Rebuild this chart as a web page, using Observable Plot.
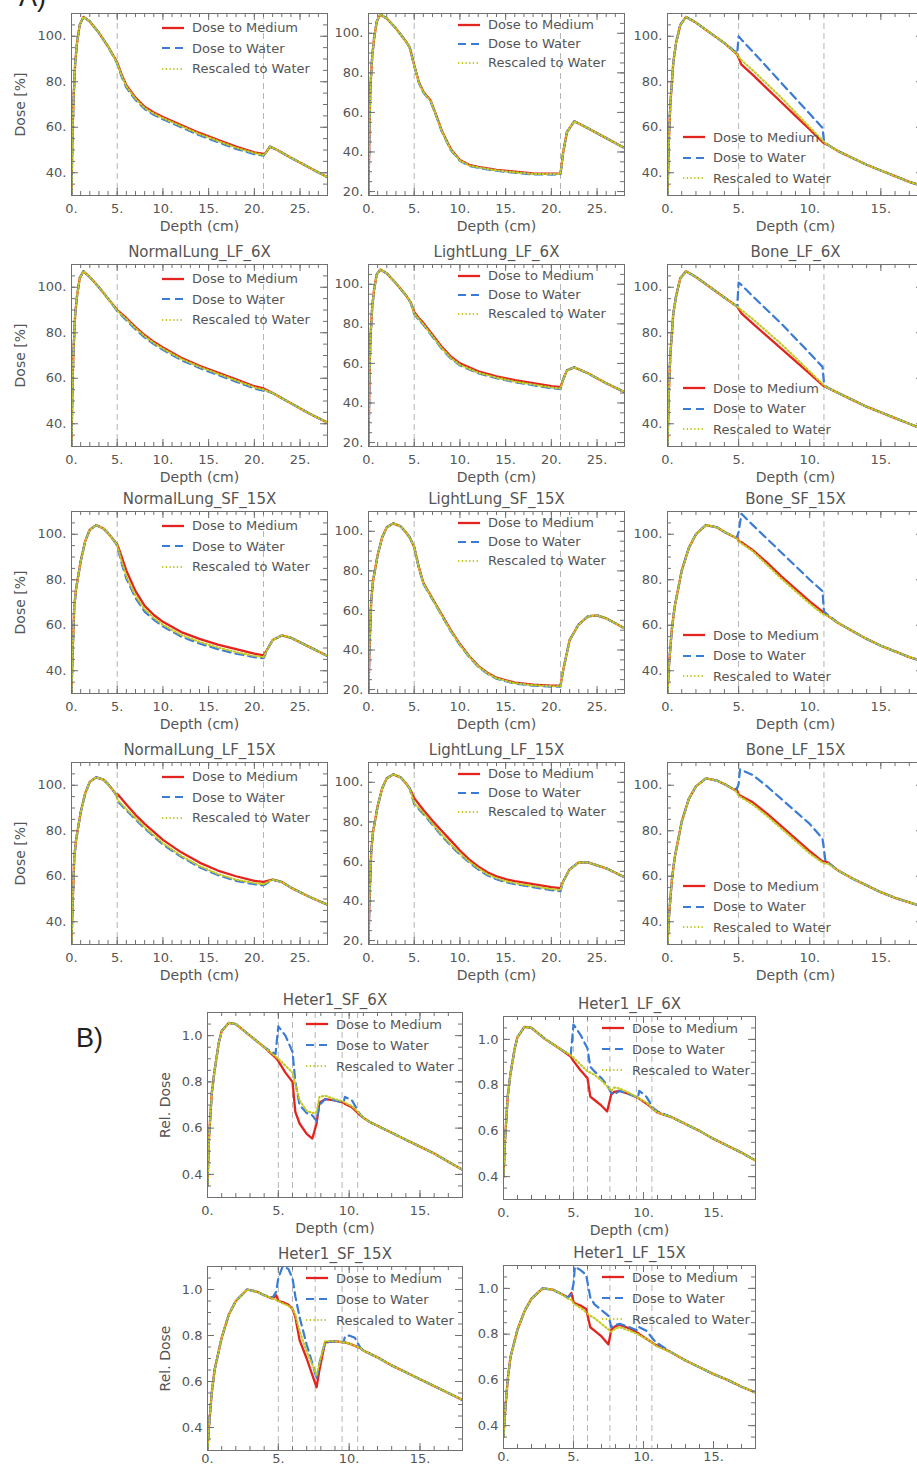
<!DOCTYPE html>
<html><head><meta charset="utf-8">
<script src="https://cdn.jsdelivr.net/npm/d3@7"></script>
<script src="https://cdn.jsdelivr.net/npm/@observablehq/plot@0.6"></script>
<style>
html,body{margin:0;padding:0;width:917px;height:1467px;overflow:hidden;background:#fff;}
#root{position:relative;width:917px;height:1467px;overflow:hidden;font-family:"DejaVu Sans",sans-serif;}
.pan{position:absolute;}
.pan svg{max-width:none !important;}
.leg{position:absolute;font-size:13px;color:#555;white-space:nowrap;}
.leg .it{display:flex;align-items:center;}
.leg svg{display:block;}
.big{position:absolute;font-family:"Liberation Sans",Arial,sans-serif;font-size:27px;color:#222;}
</style></head><body><div id="root"></div>
<script>
// ---------- tick labels / series names ----------
const seriesNames = ["Dose to Medium", "Dose to Water", "Rescaled to Water"];
const xTicksLung = [0, 5, 10, 15, 20, 25];
const xTicksShort = [0, 5, 10, 15];
const yTicksA = [40, 60, 80, 100];
const yTicksL = [20, 40, 60, 80, 100];
const yTicksB = [0.4, 0.6, 0.8, 1.0];
const slabsLung = [5, 21];
const slabsBone = [5, 11];
const slabsHeter = [5, 6, 7.6, 9.5, 10.6];

// ---------- A) row 1 : SF 6X ----------
const nlSF6_depth = [0, 0.1, 0.2, 0.4, 0.6, 0.9, 1.3, 2, 3, 4, 5, 5.5, 6, 7, 8, 9, 10, 12, 14, 16, 18, 20, 21, 21.2, 21.7, 22.5, 24, 26, 28];
const nlSF6_medium = [30, 55, 70, 88, 97, 105, 108.5, 106.5, 101.5, 95.5, 88.5, 83, 78.5, 73, 69, 66.5, 64.5, 61, 57.5, 54.5, 51.5, 49, 48.3, 48.5, 51.5, 50, 46.6, 42.3, 38];
const nlSF6_water = [30, 55, 70, 88, 97, 105, 108.5, 106.5, 101.5, 95.5, 88, 82, 77.5, 72, 68, 65.5, 63.5, 60, 56.5, 53.5, 50.5, 48.2, 47.5, 48.5, 51.5, 50, 46.6, 42.3, 38];
const nlSF6_rescaled = [30, 55, 70, 88, 97, 105, 108.5, 106.5, 101.5, 95.5, 88.2, 82.5, 78, 72.5, 68.5, 66, 64, 60.5, 57, 54, 51, 48.6, 47.8, 48.5, 51.5, 50, 46.6, 42.3, 38];

const llSF6_depth = [0, 0.1, 0.2, 0.4, 0.6, 0.9, 1.3, 2, 3, 4, 4.5, 5, 5.5, 6, 6.8, 7.5, 8, 9, 10, 11, 12, 14, 16, 18, 20, 21, 21.3, 21.7, 22.5, 24, 26, 28];
const llSF6_medium = [18, 50, 72, 88, 97, 106, 109.5, 107.5, 102.5, 96.5, 93, 84, 75.5, 70.5, 66, 57.5, 51, 41.5, 36, 33.5, 32.5, 31, 30, 29.2, 29, 29.2, 40, 50, 55.5, 52, 47, 42];
const llSF6_water = [18, 50, 72, 88, 97, 106, 109.5, 107.5, 102.5, 96.5, 93, 83.5, 75, 70, 65.5, 57, 50.5, 41, 35.5, 33, 32, 30.5, 29.5, 28.7, 28.6, 28.8, 40, 50, 55.5, 52, 47, 42];
const llSF6_rescaled = [18, 50, 72, 88, 97, 106, 109.5, 107.5, 102.5, 96.5, 93, 83.7, 75.2, 70.2, 65.7, 57.2, 50.7, 41.2, 35.7, 33.2, 32.2, 30.7, 29.7, 28.9, 28.8, 29, 40, 50, 55.5, 52, 47, 42];

const boneSF6_depth = [0, 0.1, 0.2, 0.4, 0.6, 0.9, 1.3, 2, 3, 4, 4.9, 5.0, 5.2, 6, 7, 8, 9, 10, 10.9, 11.0, 11.2, 12, 13, 14, 15, 16, 17, 18];
const boneSF6_medium = [30, 55, 70, 88, 97, 105, 108.5, 106, 101.5, 97, 92, 90.5, 87.5, 83, 77, 71, 65, 59, 53.5, 53, 52.5, 49.5, 46.5, 43.5, 41, 38.5, 36, 34];
const boneSF6_water = [30, 55, 70, 88, 97, 105, 108.5, 106, 101.5, 97, 92.5, 100, 98.5, 93.2, 86.4, 79.5, 72.7, 65.9, 59.7, 54, 52.5, 49.5, 46.5, 43.5, 41, 38.5, 36, 34];
const boneSF6_rescaled = [30, 55, 70, 88, 97, 105, 108.5, 106, 101.5, 97, 92, 91, 89.5, 85, 79, 73, 66.5, 60, 54.3, 53.5, 52.5, 49.5, 46.5, 43.5, 41, 38.5, 36, 34];

// ---------- A) row 2 : LF 6X ----------
const nlLF6_depth = [0, 0.1, 0.2, 0.4, 0.6, 0.9, 1.3, 2, 3, 4, 5, 6, 7, 8, 9, 10, 12, 14, 16, 18, 20, 21, 22, 24, 26, 28];
const nlLF6_medium = [30, 55, 70, 88, 96, 104, 107, 104.5, 100, 95, 90, 86.5, 82.5, 79, 76, 73.5, 69, 65.5, 62.5, 59.5, 56.5, 55.5, 53.5, 49, 44.5, 40.5];
const nlLF6_water = [30, 55, 70, 88, 96, 104, 107, 104.5, 100, 95, 89.5, 85.5, 81.5, 78, 75, 72.5, 68, 64.5, 61.5, 58.5, 55.5, 54.5, 53.5, 49, 44.5, 40.5];
const nlLF6_rescaled = [30, 55, 70, 88, 96, 104, 107, 104.5, 100, 95, 89.7, 86, 82, 78.5, 75.5, 73, 68.5, 65, 62, 59, 56, 55, 53.5, 49, 44.5, 40.5];

const llLF6_depth = [0, 0.1, 0.2, 0.4, 0.6, 0.9, 1.3, 2, 3, 4, 4.6, 5, 5.5, 6, 7, 8, 9, 10, 12, 14, 16, 18, 20, 21, 21.3, 21.7, 22.5, 24, 26, 28];
const llLF6_medium = [18, 50, 72, 88, 97, 105, 107.5, 105.5, 100.5, 95, 91, 86, 83, 80.5, 74.5, 68.5, 63.5, 60, 56, 53.5, 51.5, 50, 48.5, 48, 52, 56.5, 58, 55, 50, 45.5];
const llLF6_water = [18, 50, 72, 88, 97, 105, 107.5, 105.5, 100.5, 95, 91, 85, 82, 79.5, 73.5, 67.5, 62.5, 59, 55, 52.5, 50.5, 49, 47.5, 47, 52, 56.5, 58, 55, 50, 45.5];
const llLF6_rescaled = [18, 50, 72, 88, 97, 105, 107.5, 105.5, 100.5, 95, 91, 85.3, 82.3, 79.8, 73.8, 67.8, 62.8, 59.3, 55.3, 52.8, 50.8, 49.3, 47.8, 47.3, 52, 56.5, 58, 55, 50, 45.5];

const boneLF6_depth = [0, 0.1, 0.2, 0.4, 0.6, 0.9, 1.3, 2, 3, 4, 4.9, 5.0, 5.2, 6, 7, 8, 9, 10, 10.9, 11.0, 11.2, 12, 13, 14, 15, 16, 17, 18];
const boneLF6_medium = [30, 55, 70, 88, 96, 104, 107, 104.5, 100, 95.5, 91.5, 90.5, 88.5, 84, 78.5, 73, 67.5, 62, 57, 56.5, 56, 53.5, 50.5, 47.5, 45, 42.5, 40, 37.5];
const boneLF6_water = [30, 55, 70, 88, 96, 104, 107, 104.5, 100, 95.5, 91.5, 102, 101, 96, 90, 84, 77.5, 71, 65, 58, 56, 53.5, 50.5, 47.5, 45, 42.5, 40, 37.5];
const boneLF6_rescaled = [30, 55, 70, 88, 96, 104, 107, 104.5, 100, 95.5, 91.5, 91, 90, 86, 80.5, 75, 69, 63, 57.5, 57, 56, 53.5, 50.5, 47.5, 45, 42.5, 40, 37.5];

// ---------- A) row 3 : SF 15X ----------
const nlSF15_depth = [0, 0.1, 0.3, 0.5, 1, 1.5, 2, 2.7, 3.5, 4, 4.5, 5, 5.5, 6, 7, 8, 9, 10, 12, 14, 16, 18, 20, 21, 21.5, 22, 23, 24, 26, 28];
const nlSF15_medium = [30, 45, 68, 76, 88, 97, 102, 104, 102.5, 100.5, 98, 95.5, 90, 84, 75, 68.5, 64.5, 61.5, 57, 54, 51.5, 49.5, 47.5, 46.8, 50, 53.5, 55.5, 54.5, 50.5, 46.5];
const nlSF15_water = [30, 45, 68, 76, 88, 97, 102, 104, 102.5, 100.5, 98, 95, 87, 80.5, 72, 66, 62.5, 59.5, 55, 52, 49.5, 47.5, 46, 45.5, 50, 53.5, 55.5, 54.5, 50.5, 46.5];
const nlSF15_rescaled = [30, 45, 68, 76, 88, 97, 102, 104, 102.5, 100.5, 98, 95.2, 88, 81.5, 73, 67, 63.2, 60.2, 55.7, 52.7, 50.2, 48.2, 46.5, 46, 50, 53.5, 55.5, 54.5, 50.5, 46.5];

const llSF15_depth = [0, 0.1, 0.3, 0.5, 1, 1.5, 2, 2.7, 3.5, 4, 4.5, 5, 5.5, 6, 7, 8, 9, 10, 11, 12, 13, 14, 16, 18, 20, 21, 21.3, 22, 23, 24, 25, 26, 28];
const llSF15_medium = [18, 40, 65, 75, 88, 97, 102, 104, 102.5, 100, 97, 92, 82, 74, 66, 58, 50, 43, 37, 32, 28.5, 26, 23.5, 22.5, 22, 22, 30, 45, 53, 57, 57.5, 56, 51];
const llSF15_water = [18, 40, 65, 75, 88, 97, 102, 104, 102.5, 100, 97, 92, 81.5, 73.5, 65.5, 57.5, 49.5, 42.5, 36.5, 31.5, 28, 25.5, 23, 22, 21.5, 21.5, 30, 45, 53, 57, 57.5, 56, 51];
const llSF15_rescaled = [18, 40, 65, 75, 88, 97, 102, 104, 102.5, 100, 97, 92, 81.7, 73.7, 65.7, 57.7, 49.7, 42.7, 36.7, 31.7, 28.2, 25.7, 23.2, 22.2, 21.7, 21.7, 30, 45, 53, 57, 57.5, 56, 51];

const boneSF15_depth = [0, 0.1, 0.3, 0.5, 1, 1.5, 2, 2.7, 3.5, 4, 4.8, 4.9, 5.0, 5.2, 6, 7, 8, 9, 10, 10.9, 11.0, 11.3, 12, 13, 14, 15, 16, 17, 18];
const boneSF15_medium = [30, 42, 58, 68, 84, 94, 100, 104, 103, 101, 98.5, 99, 97, 96.5, 93, 87.5, 81.5, 76, 70.5, 66, 65.5, 64, 61, 57.5, 54, 51, 48.5, 46, 44];
const boneSF15_water = [30, 42, 58, 68, 84, 94, 100, 104, 103, 101, 98.5, 99, 101, 109, 104, 98, 92, 86, 80, 75, 66, 64.5, 61, 57.5, 54, 51, 48.5, 46, 44];
const boneSF15_rescaled = [30, 42, 58, 68, 84, 94, 100, 104, 103, 101, 98.5, 98, 97, 96, 92.5, 86.5, 80.5, 75, 69.5, 65, 64.8, 64, 61, 57.5, 54, 51, 48.5, 46, 44];

// ---------- A) row 4 : LF 15X ----------
const nlLF15_depth = [0, 0.1, 0.3, 0.5, 1, 1.5, 2, 2.7, 3.5, 4, 4.5, 4.95, 5.05, 6, 7, 8, 9, 10, 12, 14, 16, 18, 20, 21, 22, 23, 24, 26, 28];
const nlLF15_medium = [30, 45, 68, 76, 88, 96.5, 101.5, 103.5, 102.5, 100.5, 98, 95.5, 96, 91.5, 87, 83, 79.5, 76, 70.5, 66, 62.5, 60, 58, 57.5, 58.5, 57.5, 55, 51, 47.5];
const nlLF15_water = [30, 45, 68, 76, 88, 96.5, 101.5, 103.5, 102.5, 100.5, 98, 95.5, 93, 89, 85, 81, 77.5, 74, 68.5, 64, 60.5, 58, 56.5, 56, 58.5, 57.5, 55, 51, 47.5];
const nlLF15_rescaled = [30, 45, 68, 76, 88, 96.5, 101.5, 103.5, 102.5, 100.5, 98, 95.5, 93.5, 89.5, 85.5, 81.5, 78, 74.5, 69, 64.5, 61, 58.5, 57, 56.5, 58.5, 57.5, 55, 51, 47.5];

const llLF15_depth = [0, 0.1, 0.3, 0.5, 1, 1.5, 2, 2.7, 3.5, 4, 4.5, 5, 6, 7, 8, 9, 10, 11, 12, 13, 14, 15, 16, 18, 20, 21, 21.3, 22, 23, 24, 25, 26, 28];
const llLF15_medium = [18, 40, 65, 75, 88, 97, 102, 104, 102.5, 100, 97, 92, 86, 80.5, 75.5, 70.5, 65.5, 61, 57.5, 54.5, 52.5, 51, 50, 48.5, 47, 46.5, 50, 56, 59.5, 59.5, 58, 56.5, 52];
const llLF15_water = [18, 40, 65, 75, 88, 97, 102, 104, 102.5, 100, 97, 89, 84, 78.5, 73, 68, 63.5, 59.5, 56, 53, 51, 49.5, 48.5, 47, 45.5, 45, 50, 56, 59.5, 59.5, 58, 56.5, 52];
const llLF15_rescaled = [18, 40, 65, 75, 88, 97, 102, 104, 102.5, 100, 97, 89.5, 84.5, 79, 73.5, 68.5, 64, 60, 56.5, 53.5, 51.5, 50, 49, 47.5, 46, 45.5, 50, 56, 59.5, 59.5, 58, 56.5, 52];

const boneLF15_depth = [0, 0.1, 0.3, 0.5, 1, 1.5, 2, 2.7, 3.5, 4, 4.7, 4.85, 5.0, 5.1, 6, 7, 8, 9, 10, 10.9, 11.1, 11.3, 12, 13, 14, 15, 16, 17, 18];
const boneLF15_medium = [30, 42, 58, 68, 84, 94, 99.5, 103, 102, 100.5, 98, 98.5, 96, 95.5, 92.5, 87.5, 82, 76.5, 71, 66.5, 66.5, 66, 62.5, 59, 56, 53, 50.5, 48.5, 46.5];
const boneLF15_water = [30, 42, 58, 68, 84, 94, 99.5, 103, 102, 100.5, 98, 98, 100.5, 107, 104.5, 99.5, 94, 88.5, 83, 76.5, 67, 66, 62.5, 59, 56, 53, 50.5, 48.5, 46.5];
const boneLF15_rescaled = [30, 42, 58, 68, 84, 94, 99.5, 103, 102, 100.5, 98, 97, 95.5, 95, 91.5, 86.5, 81, 75.5, 70, 66, 65.5, 65.5, 62.5, 59, 56, 53, 50.5, 48.5, 46.5];

// ---------- B) Heter1 ----------
const h1SF6_depth = [0, 0.1, 0.3, 0.5, 0.8, 1, 1.5, 2, 3, 4, 4.8, 5.0, 5.5, 6.0, 6.2, 6.5, 7.0, 7.4, 7.7, 7.9, 8.3, 9, 9.6, 9.7, 10.2, 10.7, 11, 11.5, 12, 13, 14, 15, 16, 17, 18];
const h1SF6_medium = [0.35, 0.55, 0.75, 0.85, 0.97, 1.02, 1.055, 1.05, 1.0, 0.95, 0.905, 0.89, 0.84, 0.80, 0.67, 0.62, 0.575, 0.555, 0.62, 0.71, 0.725, 0.72, 0.71, 0.705, 0.69, 0.66, 0.645, 0.625, 0.61, 0.58, 0.55, 0.52, 0.49, 0.455, 0.42];
const h1SF6_water = [0.35, 0.55, 0.75, 0.85, 0.97, 1.02, 1.055, 1.05, 1.0, 0.95, 0.92, 1.04, 1.0, 0.93, 0.80, 0.70, 0.665, 0.655, 0.63, 0.70, 0.725, 0.72, 0.71, 0.735, 0.72, 0.665, 0.645, 0.625, 0.61, 0.58, 0.55, 0.52, 0.49, 0.455, 0.42];
const h1SF6_rescaled = [0.35, 0.55, 0.75, 0.85, 0.97, 1.02, 1.055, 1.05, 1.0, 0.95, 0.91, 0.90, 0.87, 0.84, 0.79, 0.72, 0.675, 0.665, 0.67, 0.735, 0.74, 0.725, 0.715, 0.71, 0.695, 0.665, 0.645, 0.625, 0.61, 0.58, 0.55, 0.52, 0.49, 0.455, 0.42];

const h1LF6_depth = [0, 0.1, 0.3, 0.5, 0.8, 1, 1.5, 2, 3, 4, 4.8, 5.0, 5.5, 6.0, 6.2, 6.5, 7.0, 7.4, 7.7, 7.9, 8.3, 9, 9.6, 9.7, 10.2, 10.7, 11, 12, 13, 14, 15, 16, 17, 18];
const h1LF6_medium = [0.4, 0.55, 0.75, 0.85, 0.96, 1.01, 1.055, 1.05, 1.0, 0.96, 0.925, 0.905, 0.865, 0.83, 0.75, 0.735, 0.71, 0.685, 0.76, 0.77, 0.775, 0.76, 0.745, 0.74, 0.72, 0.695, 0.68, 0.66, 0.63, 0.6, 0.565, 0.535, 0.505, 0.47];
const h1LF6_water = [0.4, 0.55, 0.75, 0.85, 0.96, 1.01, 1.055, 1.05, 1.0, 0.96, 0.93, 1.065, 1.02, 0.96, 0.88, 0.86, 0.83, 0.80, 0.765, 0.76, 0.775, 0.76, 0.745, 0.775, 0.75, 0.70, 0.685, 0.66, 0.63, 0.6, 0.565, 0.535, 0.505, 0.47];
const h1LF6_rescaled = [0.4, 0.55, 0.75, 0.85, 0.96, 1.01, 1.055, 1.05, 1.0, 0.96, 0.93, 0.92, 0.89, 0.86, 0.855, 0.845, 0.82, 0.795, 0.775, 0.79, 0.785, 0.765, 0.745, 0.74, 0.725, 0.695, 0.68, 0.66, 0.63, 0.6, 0.565, 0.535, 0.505, 0.47];

const h1SF15_depth = [0, 0.1, 0.3, 0.5, 1, 1.5, 2, 2.8, 3.5, 4, 4.6, 4.85, 5.0, 5.3, 5.7, 6.0, 6.2, 6.5, 7.0, 7.5, 7.7, 7.9, 8.3, 9, 9.6, 9.7, 10.0, 10.4, 10.8, 11, 12, 13, 14, 15, 16, 17, 18];
const h1SF15_medium = [0.3, 0.4, 0.55, 0.65, 0.79, 0.89, 0.95, 1.0, 0.99, 0.975, 0.96, 0.975, 0.95, 0.945, 0.935, 0.915, 0.88, 0.78, 0.70, 0.61, 0.575, 0.65, 0.77, 0.775, 0.77, 0.77, 0.765, 0.755, 0.745, 0.735, 0.705, 0.67, 0.64, 0.61, 0.58, 0.55, 0.52];
const h1SF15_water = [0.3, 0.4, 0.55, 0.65, 0.79, 0.89, 0.95, 1.0, 0.99, 0.975, 0.965, 0.99, 1.05, 1.10, 1.09, 1.05, 0.97, 0.88, 0.76, 0.66, 0.61, 0.68, 0.77, 0.775, 0.77, 0.795, 0.80, 0.79, 0.745, 0.735, 0.705, 0.67, 0.64, 0.61, 0.58, 0.55, 0.52];
const h1SF15_rescaled = [0.3, 0.4, 0.55, 0.65, 0.79, 0.89, 0.95, 1.0, 0.99, 0.975, 0.96, 0.955, 0.95, 0.94, 0.93, 0.915, 0.89, 0.82, 0.73, 0.66, 0.625, 0.68, 0.775, 0.775, 0.77, 0.77, 0.765, 0.755, 0.745, 0.735, 0.705, 0.67, 0.64, 0.61, 0.58, 0.55, 0.52];

const h1LF15_depth = [0, 0.1, 0.3, 0.5, 1, 1.5, 2, 2.8, 3.5, 4, 4.6, 4.85, 5.0, 5.1, 5.5, 5.9, 6.2, 6.5, 7.0, 7.5, 7.7, 8.0, 8.3, 9, 9.6, 9.7, 10.2, 10.8, 11, 12, 13, 14, 15, 16, 17, 18];
const h1LF15_medium = [0.35, 0.45, 0.6, 0.7, 0.82, 0.9, 0.955, 1.0, 0.995, 0.98, 0.96, 0.98, 0.94, 0.935, 0.925, 0.91, 0.83, 0.815, 0.79, 0.755, 0.82, 0.835, 0.84, 0.825, 0.805, 0.80, 0.78, 0.755, 0.75, 0.72, 0.685, 0.655, 0.625, 0.6, 0.57, 0.545];
const h1LF15_water = [0.35, 0.45, 0.6, 0.7, 0.82, 0.9, 0.955, 1.0, 0.995, 0.98, 0.96, 0.975, 1.02, 1.095, 1.08, 1.06, 0.96, 0.93, 0.905, 0.88, 0.83, 0.84, 0.845, 0.83, 0.815, 0.83, 0.815, 0.77, 0.76, 0.72, 0.685, 0.655, 0.625, 0.6, 0.57, 0.545];
const h1LF15_rescaled = [0.35, 0.45, 0.6, 0.7, 0.82, 0.9, 0.955, 1.0, 0.995, 0.98, 0.955, 0.95, 0.935, 0.93, 0.915, 0.895, 0.88, 0.87, 0.845, 0.82, 0.81, 0.825, 0.83, 0.815, 0.80, 0.795, 0.78, 0.755, 0.745, 0.72, 0.685, 0.655, 0.625, 0.6, 0.57, 0.545];

// ---------- layout / style ----------
const STROKES = [
  {color: "#e3231d", dash: null, width: 2.3},
  {color: "#3a7bd5", dash: "8,5", width: 2.2},
  {color: "#c3c91f", dash: "1.3,2.4", width: 2.1}
];
const KIND = {
  normal: {xDomain: [0, 28], xTicks: xTicksLung, yDomain: [30, 110], yTicks: yTicksA, yMinor: [6, 22, 5], slabs: slabsLung, fmtY: d => d + ".", leg: [91, 14.5, 20.5], yLabel: "Dose [%]"},
  light:  {xDomain: [0, 28], xTicks: xTicksLung, yDomain: [18, 110], yTicks: yTicksL, yMinor: [4, 22, 5], slabs: slabsLung, fmtY: d => d + ".", leg: [90, 11.5, 19], yLabel: null},
  bone:   {xDomain: [0, 18], xTicks: xTicksShort, yDomain: [30, 110], yTicks: yTicksA, yMinor: [6, 22, 5], slabs: slabsBone, fmtY: d => d + ".", leg: [16, 124, 20.5], yLabel: null},
  heter:  {xDomain: [0, 18], xTicks: xTicksShort, yDomain: [0.3, 1.1], yTicks: yTicksB, yMinor: [6, 22, 0.05], slabs: slabsHeter, fmtY: d => d.toFixed(1), leg: [99, 12, 21], yLabel: "Rel. Dose"}
};
const colLeft = [71, 368, 667], rowTop = [13, 264, 511, 762];
const panels = [
  {kind: "normal", col: 0, row: 0, title: null, s: [nlSF6_depth, nlSF6_medium, nlSF6_water, nlSF6_rescaled]},
  {kind: "light",  col: 1, row: 0, title: null, s: [llSF6_depth, llSF6_medium, llSF6_water, llSF6_rescaled]},
  {kind: "bone",   col: 2, row: 0, title: null, s: [boneSF6_depth, boneSF6_medium, boneSF6_water, boneSF6_rescaled]},
  {kind: "normal", col: 0, row: 1, title: "NormalLung_LF_6X", s: [nlLF6_depth, nlLF6_medium, nlLF6_water, nlLF6_rescaled]},
  {kind: "light",  col: 1, row: 1, title: "LightLung_LF_6X", s: [llLF6_depth, llLF6_medium, llLF6_water, llLF6_rescaled]},
  {kind: "bone",   col: 2, row: 1, title: "Bone_LF_6X", s: [boneLF6_depth, boneLF6_medium, boneLF6_water, boneLF6_rescaled]},
  {kind: "normal", col: 0, row: 2, title: "NormalLung_SF_15X", s: [nlSF15_depth, nlSF15_medium, nlSF15_water, nlSF15_rescaled]},
  {kind: "light",  col: 1, row: 2, title: "LightLung_SF_15X", s: [llSF15_depth, llSF15_medium, llSF15_water, llSF15_rescaled]},
  {kind: "bone",   col: 2, row: 2, title: "Bone_SF_15X", s: [boneSF15_depth, boneSF15_medium, boneSF15_water, boneSF15_rescaled]},
  {kind: "normal", col: 0, row: 3, title: "NormalLung_LF_15X", s: [nlLF15_depth, nlLF15_medium, nlLF15_water, nlLF15_rescaled]},
  {kind: "light",  col: 1, row: 3, title: "LightLung_LF_15X", s: [llLF15_depth, llLF15_medium, llLF15_water, llLF15_rescaled]},
  {kind: "bone",   col: 2, row: 3, title: "Bone_LF_15X", s: [boneLF15_depth, boneLF15_medium, boneLF15_water, boneLF15_rescaled]},
  {kind: "heter", left: 207, top: 1012, w: 255, h: 185, title: "Heter1_SF_6X", s: [h1SF6_depth, h1SF6_medium, h1SF6_water, h1SF6_rescaled]},
  {kind: "heter", left: 503, top: 1016, w: 252, h: 183, title: "Heter1_LF_6X", s: [h1LF6_depth, h1LF6_medium, h1LF6_water, h1LF6_rescaled], noYLabel: true},
  {kind: "heter", left: 207, top: 1266, w: 255, h: 184, title: "Heter1_SF_15X", s: [h1SF15_depth, h1SF15_medium, h1SF15_water, h1SF15_rescaled], xPad: 3, noXLabel: true},
  {kind: "heter", left: 503, top: 1265, w: 252, h: 183, title: "Heter1_LF_15X", s: [h1LF15_depth, h1LF15_medium, h1LF15_water, h1LF15_rescaled], noYLabel: true, xPad: 3, noXLabel: true}
];

const root = document.getElementById("root");
const mL = 70, mR = 8, mT = 28, mB = 48;
const AX = "#707070";

panels.forEach(p => {
  const k = KIND[p.kind];
  const left = p.left ?? colLeft[p.col], top = p.top ?? rowTop[p.row];
  const W = p.w ?? 256, H = p.h ?? 182;
  const [depth, ...vals] = p.s;
  const series = vals.map(v => depth.map((d, i) => ({depth: d, dose: v[i]})));
  const xMinor = d3.range(k.xDomain[0], k.xDomain[1] + 1e-9, 1);
  const yMinor = d3.range(k.yMinor[0], k.yMinor[1] + 1).map(i => +(i * k.yMinor[2]).toFixed(3))
    .filter(v => v >= k.yDomain[0] - 1e-9 && v <= k.yDomain[1] + 1e-9);
  const tickMarks = (len, v2) => [
    Plot.tickX(v2.x, {x: d => d, insetTop: H - len, stroke: AX}),
    Plot.tickX(v2.x, {x: d => d, insetBottom: H - len, stroke: AX}),
    Plot.tickY(v2.y, {y: d => d, insetRight: W - len, stroke: AX}),
    Plot.tickY(v2.y, {y: d => d, insetLeft: W - len, stroke: AX})
  ];
  const yLabel = p.noYLabel ? null : k.yLabel;
  const marks = [
    Plot.ruleX(k.slabs, {x: d => d, stroke: "#b5b5b5", strokeDasharray: "6,4", strokeWidth: 1}),
    ...series.map((data, i) => Plot.line(data, {x: "depth", y: "dose", stroke: STROKES[i].color, strokeWidth: STROKES[i].width, strokeDasharray: STROKES[i].dash, clip: true})),
    Plot.frame({stroke: AX}),
    ...tickMarks(7, {x: k.xTicks, y: k.yTicks}),
    ...tickMarks(4, {x: xMinor, y: yMinor}),
    Plot.axisX(k.xTicks, {tickSize: 0, tickPadding: p.xPad ?? 8, tickFormat: d => d + ".", fontSize: 13, label: null, fill: "#555"}),
    Plot.axisY(k.yTicks, {tickSize: 0, tickPadding: 5, tickFormat: k.fmtY, fontSize: 13, label: null, fill: "#555"})
  ];
  if (!p.noXLabel) marks.push(Plot.text(["Depth (cm)"], {frameAnchor: "bottom", lineAnchor: "middle", dy: 31, text: d => d, fontSize: 14, fill: "#555"}));
  if (p.title) marks.push(Plot.text([p.title], {frameAnchor: "top", lineAnchor: "middle", dy: -12, text: d => d, fontSize: 15, fill: "#555"}));
  if (yLabel) marks.push(Plot.text([yLabel], {frameAnchor: "left", textAnchor: "middle", lineAnchor: "middle", rotate: -90, dx: p.kind === "heter" ? -42 : -51, text: d => d, fontSize: 14, fill: "#555"}));
  const totalW = W + mL + mR, totalH = H + mT + mB;
  const svg = Plot.plot({
    width: totalW, height: totalH,
    marginLeft: mL, marginRight: mR, marginTop: mT, marginBottom: mB,
    x: {domain: k.xDomain}, y: {domain: k.yDomain},
    style: {background: "transparent", overflow: "visible", fontFamily: "DejaVu Sans, sans-serif", color: "#555", maxWidth: "none"},
    marks
  });
  svg.style.width = totalW + "px";
  svg.style.height = totalH + "px";
  const div = document.createElement("div");
  div.className = "pan";
  div.style.left = (left - mL) + "px";
  div.style.top = (top - mT) + "px";
  div.style.width = totalW + "px";
  div.style.height = totalH + "px";
  div.appendChild(svg);
  root.appendChild(div);

  // legend
  const [lx, ly, gap] = k.leg;
  const leg = document.createElement("div");
  leg.className = "leg";
  leg.style.left = (left + lx) + "px";
  leg.style.top = (top + ly - gap / 2) + "px";
  seriesNames.forEach((name, i) => {
    const it = document.createElement("div");
    it.className = "it";
    it.style.height = gap + "px";
    const st = STROKES[i];
    it.innerHTML = `<svg width="24" height="6"><line x1="0" x2="22" y1="3" y2="3" stroke="${st.color}" stroke-width="${st.width}" ${st.dash ? `stroke-dasharray="${st.dash}"` : ""}/></svg><span style="margin-left:6px">${name}</span>`;
    leg.appendChild(it);
  });
  root.appendChild(leg);
});

const a = document.createElement("div"); a.className = "big"; a.textContent = "A)";
a.style.left = "19px"; a.style.top = "-18px"; root.appendChild(a);
const b = document.createElement("div"); b.className = "big"; b.textContent = "B)";
b.style.left = "76px"; b.style.top = "1023px"; root.appendChild(b);
</script></body></html>
